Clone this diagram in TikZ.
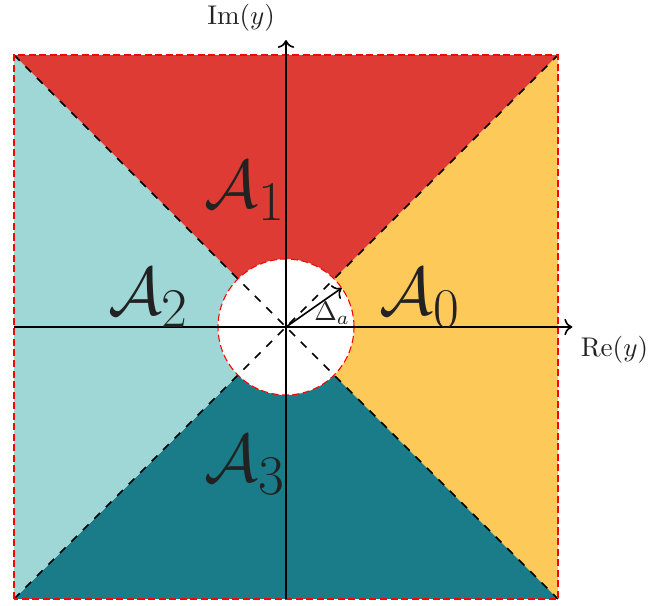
\documentclass[tikz,border=0pt]{standalone}
\usepackage{amsmath,amssymb}
\usepackage{xcolor}
\usepackage{tikz}
\usetikzlibrary{arrows.meta}
\definecolor{regred}{RGB}{221,59,52}
\definecolor{regyellow}{RGB}{253,201,88}
\definecolor{reglight}{RGB}{159,214,214}
\definecolor{regdark}{RGB}{25,124,136}
\definecolor{ink}{RGB}{34,34,34}
\begin{document}
\begin{tikzpicture}[x=0.884cm,y=0.884cm,
 diag/.style={dashed,line width=0.55pt},
 border/.style={red,dash pattern=on 2.6pt off 1.3pt,thin},
 axis/.style={->,semithick},
 region/.style={font=\Huge,text=ink}]
\useasboundingbox (-4.206,-4.103) rectangle (5.603,4.809);
\fill[regred] (-4,4) -- (4,4) -- (0,0) -- cycle;
\fill[regyellow] (4,4) -- (4,-4) -- (0,0) -- cycle;
\fill[regdark] (4,-4) -- (-4,-4) -- (0,0) -- cycle;
\fill[reglight] (-4,-4) -- (-4,4) -- (0,0) -- cycle;
\fill[white] (0,0) circle (1);
\draw[diag] (-4,-4) -- (4,4);
\draw[diag] (-4,4) -- (4,-4);
\draw[border] (-4,-4) rectangle (4,4);
\draw[border] (0,0) circle (1);
\coordinate (o) at (0,0);
\coordinate (xl) at (-4,0);
\coordinate (xr) at (4.21,0);
\coordinate (yb) at (0,-4);
\coordinate (yt) at (0,4.22);
\draw[axis] (xl) -- (xr);
\draw[axis] (yb) -- (yt);
\node[text=ink] (re) at (4.83,-0.34) {$\mathrm{Re}(y)$};
\node[text=ink] (im) at (-0.66,4.55) {$\mathrm{Im}(y)$};
\coordinate (rad) at (35:1);
\draw[->,semithick] (o) -- (rad);
\node[text=ink] (delta) at (0.68,0.2) {$\Delta_a$};
\node[region] (a1) at (-0.6,2.0) {$\mathcal{A}_1$};
\node[region] (a2) at (-2.02,0.43) {$\mathcal{A}_2$};
\node[region] (a0) at (1.97,0.43) {$\mathcal{A}_0$};
\node[region] (a3) at (-0.6,-2.03) {$\mathcal{A}_3$};
\end{tikzpicture}
\end{document}
